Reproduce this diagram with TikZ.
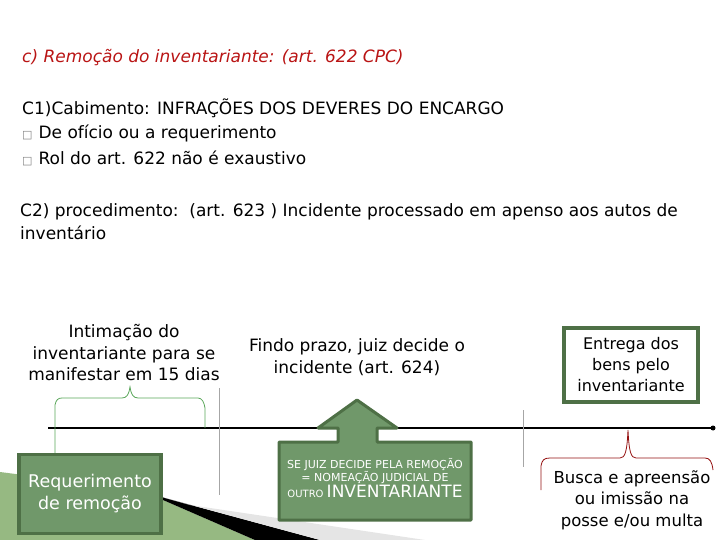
\documentclass[tikz,border=0pt]{standalone}
\usepackage{fontspec}
\setmainfont{DejaVu Sans}
\definecolor{gfill}{RGB}{112,152,106}
\definecolor{gdark}{RGB}{78,112,70}
\definecolor{tred}{RGB}{185,20,20}
\definecolor{lgreen}{RGB}{150,185,130}
\begin{document}
\begin{tikzpicture}[x=1pt,y=-1pt,
  txt/.style={inner sep=0pt,anchor=west,font=\fontsize{17}{20}\selectfont},
  ctxt/.style={inner sep=0pt,align=center,font=\fontsize{17}{21.5}\selectfont},
  gbox/.style={draw=gdark,line width=3.5pt,fill=gfill,text=white,align=center},
  wline/.style={draw=gray!70,line width=0.8pt}]
\useasboundingbox (0,0) rectangle (720,540);
% decoration bottom-left
\fill[lgreen] (0,472) -- (140,490) -- (255,540) -- (0,540) -- cycle;
\fill[black] (140,490) -- (165,498) -- (320,540) -- (255,540) -- cycle;
\fill[gray!20] (165,498) -- (190,505) -- (425,540) -- (320,540) -- cycle;
% text
\node[txt,text=tred,font=\itshape\fontsize{17}{20}\selectfont] (title) at (22,58) {c) Remoção do inventariante: (art. 622 CPC)};
\node[txt] (c1) at (22,108) {C1)Cabimento: INFRAÇÕES DOS DEVERES DO ENCARGO};
\node[txt] (b1) at (22,133) {{\fontsize{11}{12}\selectfont\textcolor{gray}{□}}\hspace{6pt}De ofício ou a requerimento};
\node[txt] (b2) at (22,158) {{\fontsize{11}{12}\selectfont\textcolor{gray}{□}}\hspace{6pt}Rol do art. 622 não é exaustivo};
\node[txt] (c2) at (20,212) {C2) procedimento:\ \ (art. 623 ) Incidente processado em apenso aos autos de};
\node[txt] (c2b) at (20,233) {inventário};
% timeline
\coordinate (ts) at (48,428);
\coordinate (te) at (713,428);
\draw[line width=2.2pt] (ts) -- (te);
\fill (te) circle (2.5pt);
% labels
\node[ctxt] (intim) at (124,353) {Intimação do\\inventariante para se\\manifestar em 15 dias};
\node[ctxt] (findo) at (357,357) {Findo prazo, juiz decide o\\incidente (art. 624)};
\node[draw=gdark,line width=3.5pt,fill=white,ctxt,font=\fontsize{16}{21}\selectfont,inner sep=4pt,minimum width=134pt,minimum height=74pt] (entrega) at (631,365) {Entrega dos\\bens pelo\\inventariante};
\node[ctxt,font=\fontsize{16.5}{21.5}\selectfont] (busca) at (632,500) {Busca e apreensão\\ou imissão na\\posse e/ou multa};
% brace top (gray-green)
\draw[gray!70!green,line width=0.8pt] (55,455) -- (55,405) .. controls (56,400) and (58,398) .. (62,398) -- (122,398) .. controls (127,398) and (129,394) .. (130,387) .. controls (131,394) and (133,398) .. (138,398) -- (198,398) .. controls (202,398) and (204,402) .. (205,408) -- (205,428);
\draw[wline] (219,388) -- (219,495);
\draw[wline] (523,410) -- (523,467);
% red brace
\draw[tred!80!black,line width=0.8pt] (541,490) -- (541,466) .. controls (542,460) and (544,458) .. (550,458) -- (620,458) .. controls (625,458) and (627,452) .. (628,430) .. controls (629,452) and (631,458) .. (636,458) -- (705,458) .. controls (710,458) and (712,462) .. (713,470);
% requerimento
\node[gbox,font=\fontsize{17.5}{22}\selectfont,minimum width=142pt,minimum height=79pt] (req) at (90,494) {Requerimento\\de remoção};
% callout arrow
\path[fill=gfill,draw=gdark,line width=3pt,line join=round]
  (279,442) -- (338,442) -- (338,428) -- (318,428) -- (357,400) -- (397,428) -- (377,428) -- (377,442) -- (471,442) -- (471,520) -- (279,520) -- cycle;
\node[text=white,align=center,inner sep=0pt] (se) at (375,478) {\fontsize{11}{12}\selectfont SE JUIZ DECIDE PELA REMOÇÃO\\\fontsize{11}{13}\selectfont= NOMEAÇÃO JUDICIAL DE\\[1pt]{\fontsize{10}{12}\selectfont OUTRO} {\fontsize{17}{18}\selectfont INVENTARIANTE}};
\end{tikzpicture}
\end{document}
